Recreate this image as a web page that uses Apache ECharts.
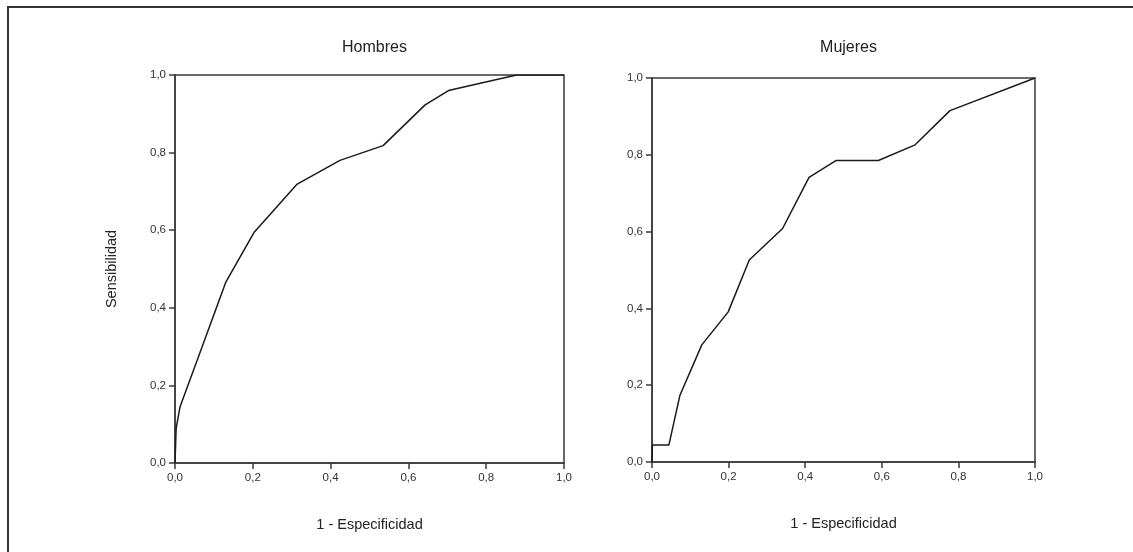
<!DOCTYPE html>
<html>
<head>
<meta charset="utf-8">
<script src="https://cdn.jsdelivr.net/npm/echarts@6/dist/echarts.min.js"></script>
<style>
html,body{margin:0;padding:0;background:#fff;}
#chart{width:1133px;height:552px;}
</style>
</head>
<body>
<div id="chart"></div>
<script>
// Data: ROC curves [1 - Especificidad, Sensibilidad]
const hombresX = [0, 0.003, 0.013, 0.07, 0.131, 0.203, 0.313, 0.424, 0.535, 0.643, 0.703, 0.878, 1.0];
const hombresY = [0, 0.09, 0.145, 0.30, 0.467, 0.594, 0.718, 0.780, 0.818, 0.923, 0.960, 1.0, 1.0];
const mujeresX = [0, 0.001, 0.044, 0.073, 0.130, 0.199, 0.254, 0.341, 0.410, 0.480, 0.591, 0.687, 0.778, 1.0];
const mujeresY = [0, 0.044, 0.044, 0.174, 0.305, 0.391, 0.526, 0.608, 0.741, 0.785, 0.785, 0.826, 0.915, 1.0];
const tickValues = [0, 0.2, 0.4, 0.6, 0.8, 1.0];
const titles = ['Hombres', 'Mujeres'];
const xName = '1 - Especificidad';
const yName = 'Sensibilidad';

const FONT = '"Liberation Sans", Arial, sans-serif';
const fmt = v => v.toFixed(1).replace('.', ',');
const pairs = (xs, ys) => xs.map((x, i) => [x, ys[i]]);

const axisCommon = {
  type: 'value', min: 0, max: 1, interval: 0.2,
  axisLine: { show: true, lineStyle: { color: '#3a3a3a', width: 1.5 } },
  axisTick: { show: true, inside: false, length: 6, lineStyle: { color: '#3a3a3a', width: 1.5 } },
  axisLabel: { color: '#333', fontSize: 11.5, fontFamily: FONT, formatter: fmt },
  splitLine: { show: false }
};

const grids = [
  { left: 175, top: 75, width: 389, height: 388 },
  { left: 652, top: 78, width: 383, height: 384 }
];

const chart = echarts.init(document.getElementById('chart'));
chart.setOption({
  backgroundColor: '#fff',
  animation: false,
  title: titles.map((t, i) => ({
    text: t,
    left: grids[i].left + grids[i].width / 2,
    top: 35,
    textAlign: 'center',
    textStyle: { color: '#222', fontSize: 16, fontWeight: 'normal', fontFamily: FONT }
  })),
  grid: grids.map(g => Object.assign({ show: true, borderColor: '#3a3a3a', borderWidth: 1.5, backgroundColor: 'transparent' }, g)),
  xAxis: [0, 1].map(i => Object.assign({}, axisCommon, {
    gridIndex: i,
    name: xName, nameLocation: 'middle', nameGap: 54,
    nameTextStyle: { color: '#222', fontSize: 14.5, fontFamily: FONT },
    axisLabel: Object.assign({}, axisCommon.axisLabel, { margin: 9 })
  })),
  yAxis: [0, 1].map(i => Object.assign({}, axisCommon, {
    gridIndex: i,
    name: i === 0 ? yName : '', nameLocation: 'middle', nameGap: 56,
    nameTextStyle: { color: '#222', fontSize: 14.5, fontFamily: FONT },
    axisLabel: Object.assign({}, axisCommon.axisLabel, { margin: 9 })
  })),
  series: [
    { type: 'line', xAxisIndex: 0, yAxisIndex: 0, data: pairs(hombresX, hombresY), showSymbol: false, lineStyle: { color: '#1a1a1a', width: 1.5 } },
    { type: 'line', xAxisIndex: 1, yAxisIndex: 1, data: pairs(mujeresX, mujeresY), showSymbol: false, lineStyle: { color: '#1a1a1a', width: 1.5 } }
  ],
  graphic: [{
    type: 'polyline',
    shape: { points: [[8, 560], [8, 7], [1140, 7]] },
    style: { stroke: '#333', lineWidth: 2, fill: null },
    silent: true
  }]
});
</script>
</body>
</html>
